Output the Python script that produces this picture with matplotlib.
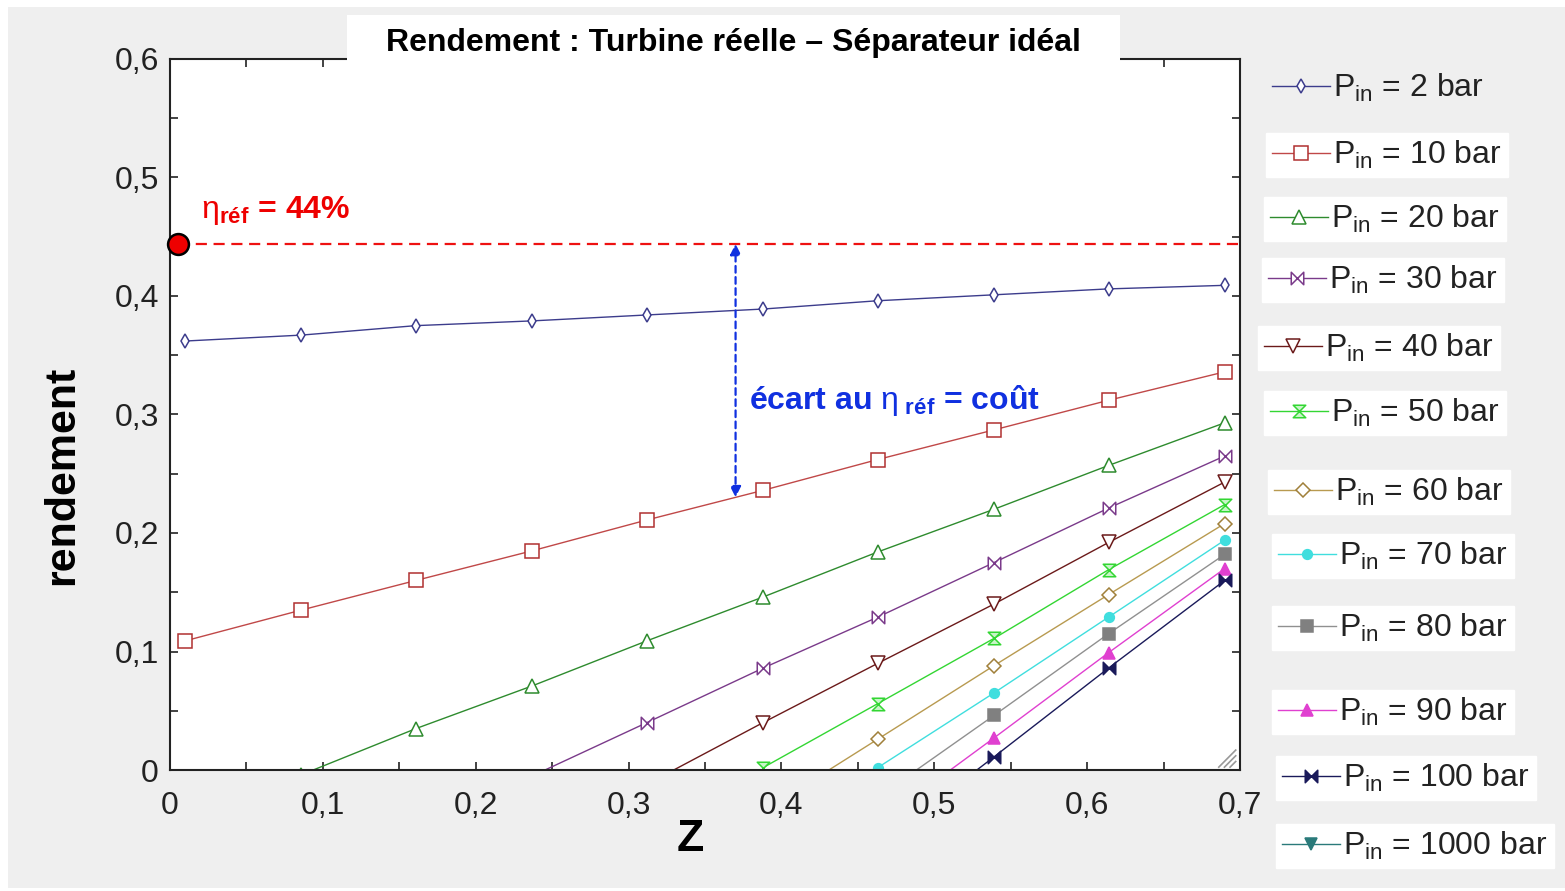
import numpy as np
import matplotlib
matplotlib.use("Agg")
import matplotlib.pyplot as plt
from matplotlib.path import Path
from matplotlib.patches import Rectangle
from matplotlib.ticker import MultipleLocator, FuncFormatter

nan = np.nan

# vapour quality at the separator inlet
z = [0.01, 0.086, 0.161, 0.237, 0.312, 0.388, 0.463, 0.539, 0.614, 0.69]

# efficiency for each inlet pressure (nan = not computed on that point)
eta_2 = [0.362, 0.367, 0.375, 0.379, 0.384, 0.389, 0.396, 0.401, 0.406, 0.409]
eta_10 = [0.109, 0.135, 0.160, 0.185, 0.211, 0.236, 0.262, 0.287, 0.312, 0.336]
eta_20 = [nan, -0.004, 0.035, 0.071, 0.109, 0.146, 0.184, 0.220, 0.257, 0.293]
eta_30 = [nan, nan, nan, -0.005, 0.040, 0.086, 0.129, 0.175, 0.221, 0.265]
eta_40 = [nan, nan, nan, nan, -0.012, 0.040, 0.090, 0.140, 0.192, 0.243]
eta_50 = [nan, nan, nan, nan, nan, 0.002, 0.056, 0.111, 0.169, 0.224]
eta_60 = [nan, nan, nan, nan, nan, -0.035, 0.026, 0.088, 0.148, 0.208]
eta_70 = [nan, nan, nan, nan, nan, nan, 0.002, 0.065, 0.129, 0.194]
eta_80 = [nan, nan, nan, nan, nan, nan, -0.023, 0.046, 0.115, 0.182]
eta_90 = [nan, nan, nan, nan, nan, nan, -0.045, 0.027, 0.099, 0.170]
eta_100 = [nan, nan, nan, nan, nan, nan, -0.064, 0.011, 0.086, 0.160]
eta_1000 = []  # stays below zero over this range of z

pressures = [2, 10, 20, 30, 40, 50, 60, 70, 80, 90, 100, 1000]
series = [eta_2, eta_10, eta_20, eta_30, eta_40, eta_50,
          eta_60, eta_70, eta_80, eta_90, eta_100, eta_1000]

eta_ref = 0.444
ref_z = 0.005
gap_z = 0.37

# custom marker shapes
bowtie = Path([(-1, -1), (-1, 1), (1, -1), (1, 1), (-1, -1)],
              [Path.MOVETO, Path.LINETO, Path.LINETO, Path.LINETO, Path.CLOSEPOLY])
hourglass = Path([(-1, 1), (1, 1), (-1, -1), (1, -1), (-1, 1)],
                 [Path.MOVETO, Path.LINETO, Path.LINETO, Path.LINETO, Path.CLOSEPOLY])

# line colour, marker, marker edge, marker face, marker size
styles = [
    ("#3c3c8c", "d", "#3c3c8c", "white", 7),
    ("#c04848", "s", "#b03030", "white", 9.5),
    ("#2e8b2e", "^", "#2e8b2e", "white", 10),
    ("#7a3a8a", bowtie, "#7a3a8a", "white", 9),
    ("#6b1a1a", "v", "#6b1a1a", "white", 10),
    ("#33d633", hourglass, "#33d633", "#c8f5c8", 9),
    ("#b89a50", "D", "#a0803a", "white", 7.5),
    ("#40dede", "o", "#40dede", "#40dede", 7),
    ("#909090", "s", "#808080", "#808080", 8.5),
    ("#e040d0", "^", "#e040d0", "#e040d0", 9),
    ("#1a1a5a", bowtie, "#1a1a5a", "#1a1a5a", 9),
    ("#2a7a7a", "v", "#2a7a7a", "#2a7a7a", 9),
]

# legend box placement (figure pixels: left edge, vertical centre)
legend_x = [1266, 1266, 1264, 1262, 1258, 1264, 1268, 1272, 1272, 1272, 1276, 1276]
legend_y = [88, 155, 219, 280, 348, 413, 492, 556, 628, 712, 778, 846]

plt.rcParams.update({
    "font.family": ["Liberation Sans", "DejaVu Sans"],
    "mathtext.fontset": "custom",
    "mathtext.rm": "Liberation Sans",
    "mathtext.it": "Liberation Sans:italic",
    "mathtext.bf": "Liberation Sans:bold",
})

W, H = 1565, 891
fig = plt.figure(figsize=(W / 100, H / 100), dpi=100, facecolor="white")
fig.patches.append(Rectangle((8 / W, 3 / H), 1, 1 - 10 / H, transform=fig.transFigure,
                             facecolor="#efefef", edgecolor="none", zorder=-10))

ax = fig.add_axes([170 / W, 1 - 770 / H, 1070 / W, 711 / H])
ax.set_facecolor("white")

handles = []
for p, vals, (color, marker, edge, face, ms) in zip(pressures, series, styles):
    (ln,) = ax.plot(z[:len(vals)], vals, color=color, lw=1.0, marker=marker,
                    mec=edge, mfc=face, ms=ms, mew=1.1,
                    label=r"$\mathrm{P}_{\mathrm{in}}$ = %d bar" % p)
    handles.append(ln)

ax.set_xlim(0, 0.7)
ax.set_ylim(0, 0.6)
ax.xaxis.set_major_locator(MultipleLocator(0.1))
ax.yaxis.set_major_locator(MultipleLocator(0.1))
ax.xaxis.set_minor_locator(MultipleLocator(0.05))
ax.yaxis.set_minor_locator(MultipleLocator(0.05))
comma = FuncFormatter(lambda v, _: "0" if abs(v) < 1e-9 else f"{v:.1f}".replace(".", ","))
ax.xaxis.set_major_formatter(comma)
ax.yaxis.set_major_formatter(comma)
ax.tick_params(which="both", direction="in", length=6, width=1.2, top=True,
               right=True, colors="#222222")
ax.tick_params(axis="both", labelsize=23)
ax.tick_params(axis="x", pad=15)
ax.tick_params(axis="y", pad=8)
for s in ax.spines.values():
    s.set_linewidth(1.5)
    s.set_color("#222222")

ax.set_xlabel("Z", fontsize=32, fontweight="bold")
ax.xaxis.label.set(ha="center", va="center")
ax.xaxis.set_label_coords(0.486, -0.098)
ax.set_ylabel("rendement", fontsize=31, fontweight="bold")
ax.yaxis.label.set(ha="center", va="center")
ax.yaxis.set_label_coords(-0.101, 0.415)

# reference efficiency
ax.hlines(eta_ref, ref_z, 0.7, colors="#ee1111", lw=1.6, linestyles=(0, (5, 3)), zorder=4)
ax.plot(ref_z, eta_ref, "o", ms=15, mfc="#ee0000", mec="black", mew=1.8,
        clip_on=False, zorder=6)
ax.text(0.02, eta_ref + 0.028, r"$\mathrm{η}_{\mathbf{réf}}$" + f" = {eta_ref * 100:.0f}%",
        color="#ee0000", fontsize=23, fontweight="bold", va="center", ha="left")

# gap between the reference and the 10 bar curve
gap_low = np.interp(gap_z, z, eta_10)
ax.annotate("", xy=(gap_z, eta_ref), xytext=(gap_z, gap_low),
            arrowprops=dict(arrowstyle="<|-|>", color="#1030e0", lw=1.6,
                            linestyle=(0, (3, 2)), mutation_scale=16,
                            shrinkA=0, shrinkB=0), zorder=5)
ax.text(0.379, 0.312, r"écart au $\mathrm{η}_{\ \mathbf{réf}}$ = coût",
        color="#1030e0", fontsize=23, fontweight="bold", va="center", ha="left")

# resize grip in the lower right corner
for k in range(3):
    d = 0.008 + 0.008 * k
    ax.plot([0.996, 0.996 - d * 0.66], [0.004 + d, 0.004], transform=ax.transAxes,
            color="#999999", lw=1.2, clip_on=False)

# title in its own white box over the top of the frame
fig.patches.append(Rectangle((347 / W, 1 - 68 / H), 773 / W, 53 / H,
                             transform=fig.transFigure, facecolor="white",
                             edgecolor="none", zorder=5))
fig.text(733 / W, 1 - 43 / H, "Rendement : Turbine réelle – Séparateur idéal",
         ha="center", va="center", fontsize=23, fontweight="bold", zorder=6)

for i, h in enumerate(handles):
    leg = fig.legend(handles=[h], labels=[h.get_label()], loc="center left",
                     bbox_to_anchor=(legend_x[i] / W, 1 - legend_y[i] / H),
                     bbox_transform=fig.transFigure, frameon=i > 0, fancybox=False,
                     facecolor="white", edgecolor="white", framealpha=1,
                     fontsize=23, handlelength=1.8, handletextpad=0.1,
                     borderpad=0.2, borderaxespad=0)
    for t in leg.get_texts():
        t.set_color("#222222")

fig.savefig("out.png", dpi=100)
